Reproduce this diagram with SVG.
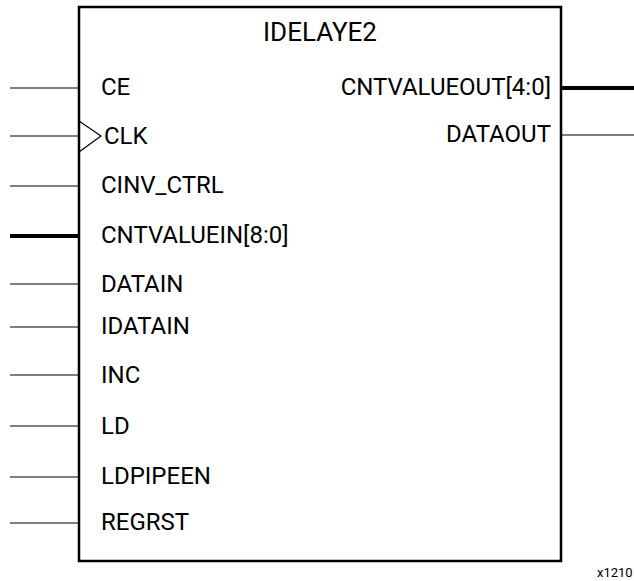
<svg xmlns="http://www.w3.org/2000/svg" width="634" height="581" viewBox="0 0 634 581">
<style>
.lbl{font-family:Roboto,"Liberation Sans",sans-serif;font-size:24px;font-weight:400;fill:#000}
.title{font-family:Roboto,"Liberation Sans",sans-serif;font-size:26px;font-weight:400;fill:#000}
.pin{stroke:#000;stroke-width:1.2;fill:none}
.bus{stroke:#000;stroke-width:4;fill:none}
.box{stroke:#000;stroke-width:2.5;fill:#fff}
.note{font-family:Roboto,"Liberation Sans",sans-serif;font-size:13px;font-weight:400;fill:#000}
</style>
<g id="connectors">
<line class="pin" x1="10" y1="88" x2="79" y2="88"/>
<line class="pin" x1="10" y1="136" x2="79" y2="136"/>
<line class="pin" x1="10" y1="186" x2="79" y2="186"/>
<line class="bus" x1="10" y1="236" x2="79" y2="236"/>
<line class="pin" x1="10" y1="284" x2="79" y2="284"/>
<line class="pin" x1="10" y1="327" x2="79" y2="327"/>
<line class="pin" x1="10" y1="375" x2="79" y2="375"/>
<line class="pin" x1="10" y1="426" x2="79" y2="426"/>
<line class="pin" x1="10" y1="477" x2="79" y2="477"/>
<line class="pin" x1="10" y1="523" x2="79" y2="523"/>
<line class="bus" x1="561" y1="88" x2="634" y2="88"/>
<line class="pin" x1="561" y1="135" x2="634" y2="135"/>
</g>
<g id="IDELAYE2">
<rect class="box" x="79" y="7" width="482" height="554"/>
<polyline class="pin" points="79,121 101,136 79,152"/>
<text class="title" x="320" y="41" text-anchor="middle">IDELAYE2</text>
<text class="lbl" x="101" y="95">CE</text>
<text class="lbl" x="104" y="144">CLK</text>
<text class="lbl" x="101" y="193">CINV_CTRL</text>
<text class="lbl" x="101" y="243">CNTVALUEIN[8:0]</text>
<text class="lbl" x="101" y="292">DATAIN</text>
<text class="lbl" x="101" y="334">IDATAIN</text>
<text class="lbl" x="101" y="383">INC</text>
<text class="lbl" x="101" y="434">LD</text>
<text class="lbl" x="101" y="484">LDPIPEEN</text>
<text class="lbl" x="101" y="530">REGRST</text>
<text class="lbl" x="551" y="95" text-anchor="end">CNTVALUEOUT[4:0]</text>
<text class="lbl" x="551" y="142" text-anchor="end">DATAOUT</text>
</g>
<text class="note" x="597" y="577">x1210</text>
</svg>
